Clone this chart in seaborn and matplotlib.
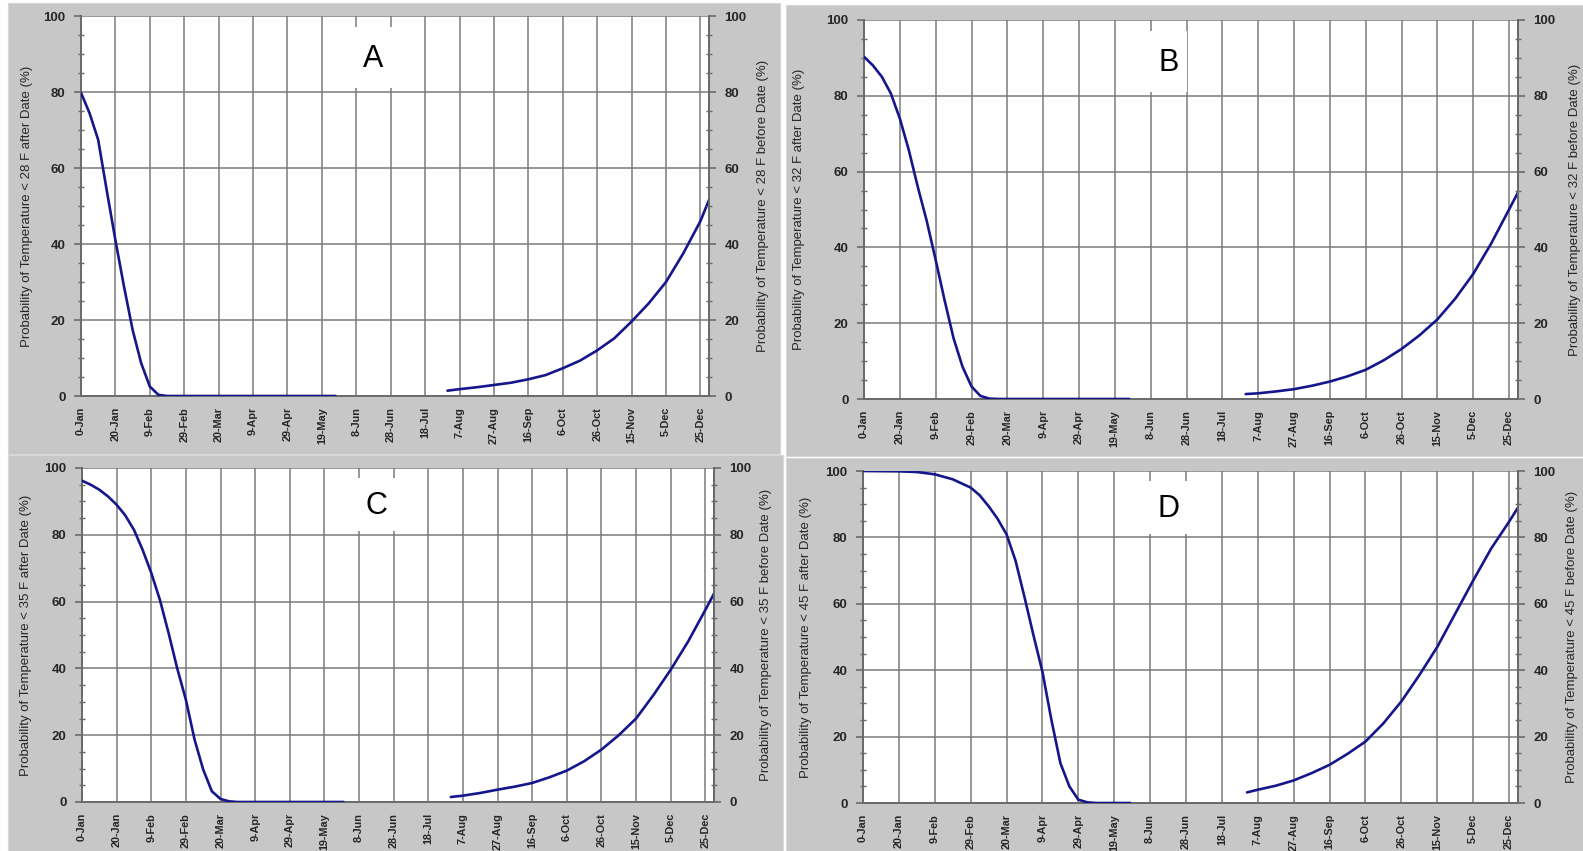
import matplotlib
matplotlib.use('Agg')
import matplotlib.pyplot as plt
from matplotlib.patches import Rectangle
from matplotlib.ticker import MultipleLocator
import seaborn as sns
import pandas as pd

# x axis: day of year, labelled every 20 days
date_ticks = list(range(0, 361, 20))
date_labels = ['0-Jan', '20-Jan', '9-Feb', '29-Feb', '20-Mar', '9-Apr', '29-Apr',
               '19-May', '8-Jun', '28-Jun', '18-Jul', '7-Aug', '27-Aug', '16-Sep',
               '6-Oct', '26-Oct', '15-Nov', '5-Dec', '25-Dec']

panel_letters = ['A', 'B', 'C', 'D']
thresholds = ['28', '32', '35', '45']

# spring curves: probability of temperature below threshold after date
a_spring_days = [0, 5, 10, 15, 20, 25, 30, 35, 40, 45, 50, 148]
a_spring_prob = [79.8, 74.4, 67.4, 54, 41, 28.8, 17.4, 8.6, 2.5, 0.3, 0, 0]
b_spring_days = [0, 5, 10, 15, 20, 25, 30, 35, 40, 45, 50, 55, 60, 65, 70, 75, 148]
b_spring_prob = [90.3, 88, 85, 80.6, 74, 65.7, 56, 47, 36.7, 26, 16, 8.5, 3.3, 0.8, 0.1, 0, 0]
c_spring_days = [0, 5, 10, 15, 20, 25, 30, 35, 40, 45, 50, 55, 60, 65, 70, 75, 80, 85, 90, 151]
c_spring_prob = [96.2, 95, 93.5, 91.5, 89, 85.8, 81.5, 75.5, 68.6, 60.5, 50.6, 40, 30.6, 18.7,
                 9.7, 3.2, 0.9, 0.2, 0, 0]
d_spring_days = [0, 20, 30, 40, 50, 60, 65, 70, 75, 80, 85, 90, 95, 100, 105, 110, 115, 120,
                 125, 130, 149]
d_spring_prob = [100, 99.9, 99.7, 99, 97.5, 95, 92.7, 89.4, 85.6, 80.9, 73, 62, 50.5, 39.5,
                 25, 12, 5, 1, 0.2, 0, 0]

# fall curves: probability of temperature below threshold before date
a_fall_days = [213, 220, 230, 240, 250, 260, 270, 280, 290, 300, 310, 320, 330, 340, 350, 360, 365]
a_fall_prob = [1.4, 1.8, 2.3, 2.9, 3.5, 4.4, 5.5, 7.3, 9.3, 12, 15.2, 19.6, 24.4, 30, 37.5, 46, 51.6]
b_fall_days = [213, 220, 230, 240, 250, 260, 270, 280, 290, 300, 310, 320, 330, 340, 350, 360, 365]
b_fall_prob = [1.3, 1.5, 2, 2.6, 3.5, 4.6, 6, 7.7, 10.2, 13.2, 16.8, 21, 26.5, 33, 41, 50, 54.5]
c_fall_days = [213, 220, 230, 240, 250, 260, 270, 280, 290, 300, 310, 320, 330, 340, 350, 360, 365]
c_fall_prob = [1.5, 1.9, 2.7, 3.7, 4.6, 5.7, 7.4, 9.4, 12.2, 15.7, 20, 25, 32, 39.6, 48, 57.5, 62.4]
d_fall_days = [214, 220, 230, 240, 250, 260, 270, 280, 290, 300, 310, 320, 330, 340, 350, 360, 365]
d_fall_prob = [3.2, 4, 5.2, 6.8, 9, 11.5, 14.8, 18.5, 24, 30.6, 38.5, 47, 57, 67, 76.6, 84.7, 89]

spring = [(a_spring_days, a_spring_prob), (b_spring_days, b_spring_prob),
          (c_spring_days, c_spring_prob), (d_spring_days, d_spring_prob)]
fall = [(a_fall_days, a_fall_prob), (b_fall_days, b_fall_prob),
        (c_fall_days, c_fall_prob), (d_fall_days, d_fall_prob)]

W, H = 1583, 851
# plot areas in pixels: left, top, right, bottom
axes_px = [(81, 16, 709, 396), (864, 20, 1518, 399),
           (82, 468, 714, 802), (863, 471, 1518, 803)]
# grey panel backgrounds in pixels
panels_px = [(8, 3, 780, 454), (786, 5, 1583, 456),
             (8, 455, 783, 851), (786, 458, 1583, 851)]
left_label_x = [-0.077, -0.09, -0.079, -0.078]
right_label_x = [1.077, 1.078, 1.073, 1.074]

sns.set_style('white')
plt.rcParams['font.family'] = ['Liberation Sans', 'DejaVu Sans']

grid_col = '#7a7a7a'
axis_col = '#6a6a6a'
line_col = '#16168c'
panel_col = '#c7c7c7'
text_col = '#262626'
label_family = ['Liberation Sans Narrow', 'Liberation Sans', 'DejaVu Sans']

fig = plt.figure(figsize=(W / 100, H / 100), dpi=100)
fig.patch.set_facecolor('white')

for (x0, y0, x1, y1) in panels_px:
    fig.add_artist(Rectangle((x0 / W, 1 - y1 / H), (x1 - x0) / W, (y1 - y0) / H,
                             transform=fig.transFigure, facecolor=panel_col,
                             edgecolor='#d8d8d8', lw=0.8, zorder=-5))

for i in range(4):
    x0, y0, x1, y1 = axes_px[i]
    ax = fig.add_axes([x0 / W, 1 - y1 / H, (x1 - x0) / W, (y1 - y0) / H])
    ax.set_facecolor('white')

    d1 = pd.DataFrame({'day': spring[i][0], 'prob': spring[i][1]})
    d2 = pd.DataFrame({'day': fall[i][0], 'prob': fall[i][1]})
    sns.lineplot(data=d1, x='day', y='prob', ax=ax, color=line_col, lw=1.9, zorder=5)
    sns.lineplot(data=d2, x='day', y='prob', ax=ax, color=line_col, lw=1.9, zorder=5)

    ax.set_xlim(0, 365)
    ax.set_ylim(0, 100)
    ax.set_xticks(date_ticks)
    ax.set_xticklabels(date_labels, rotation=90, fontsize=7.8, fontweight='bold', color=text_col)
    ax.xaxis.set_minor_locator(MultipleLocator(10))
    ax.set_yticks(range(0, 101, 20))
    ax.yaxis.set_minor_locator(MultipleLocator(5))
    ax.tick_params(axis='y', which='major', direction='out', length=5, width=1.2,
                   color=axis_col, labelsize=9.5, pad=6)
    ax.tick_params(axis='x', which='major', direction='out', length=4, width=1.2,
                   color=axis_col, pad=4)
    ax.tick_params(which='minor', direction='inout', length=5, width=1.0, color=axis_col)
    for lbl in ax.get_yticklabels():
        lbl.set_fontweight('bold')
        lbl.set_color(text_col)

    ax.grid(True, which='major', color=grid_col, lw=1.1)
    ax.spines['top'].set_visible(False)
    for side in ['left', 'bottom', 'right']:
        ax.spines[side].set_color(axis_col)
        ax.spines[side].set_linewidth(1.4)

    ax.set_xlabel('')
    ax.set_ylabel('Probability of Temperature < %s F after Date (%%)' % thresholds[i],
                  fontsize=9.5, family=label_family, color=text_col)
    ax.yaxis.set_label_coords(left_label_x[i], 0.5)

    ax2 = ax.twinx()
    ax2.set_ylim(0, 100)
    ax2.set_yticks(range(0, 101, 20))
    ax2.yaxis.set_minor_locator(MultipleLocator(5))
    ax2.tick_params(axis='y', which='major', direction='out', length=5, width=1.2,
                    color=axis_col, labelsize=9.5, pad=6)
    ax2.tick_params(axis='y', which='minor', direction='inout', length=5, width=1.0, color=axis_col)
    for lbl in ax2.get_yticklabels():
        lbl.set_fontweight('bold')
        lbl.set_color(text_col)
    for side in ['top', 'left', 'bottom']:
        ax2.spines[side].set_visible(False)
    ax2.spines['right'].set_color(axis_col)
    ax2.spines['right'].set_linewidth(1.4)
    ax2.set_ylabel('Probability of Temperature < %s F before Date (%%)' % thresholds[i],
                   fontsize=9.5, family=label_family, color=text_col)
    ax2.yaxis.set_label_coords(right_label_x[i], 0.5)

    # panel letter in a white box covering the grid
    ax.add_patch(Rectangle((159.5, 81), 21, 16, facecolor='white', edgecolor='none', zorder=4))
    ax.text(170, 88.7, panel_letters[i], fontsize=22, ha='center', va='center',
            color='black', zorder=6)

fig.savefig('out.png', dpi=100, facecolor=fig.get_facecolor())
